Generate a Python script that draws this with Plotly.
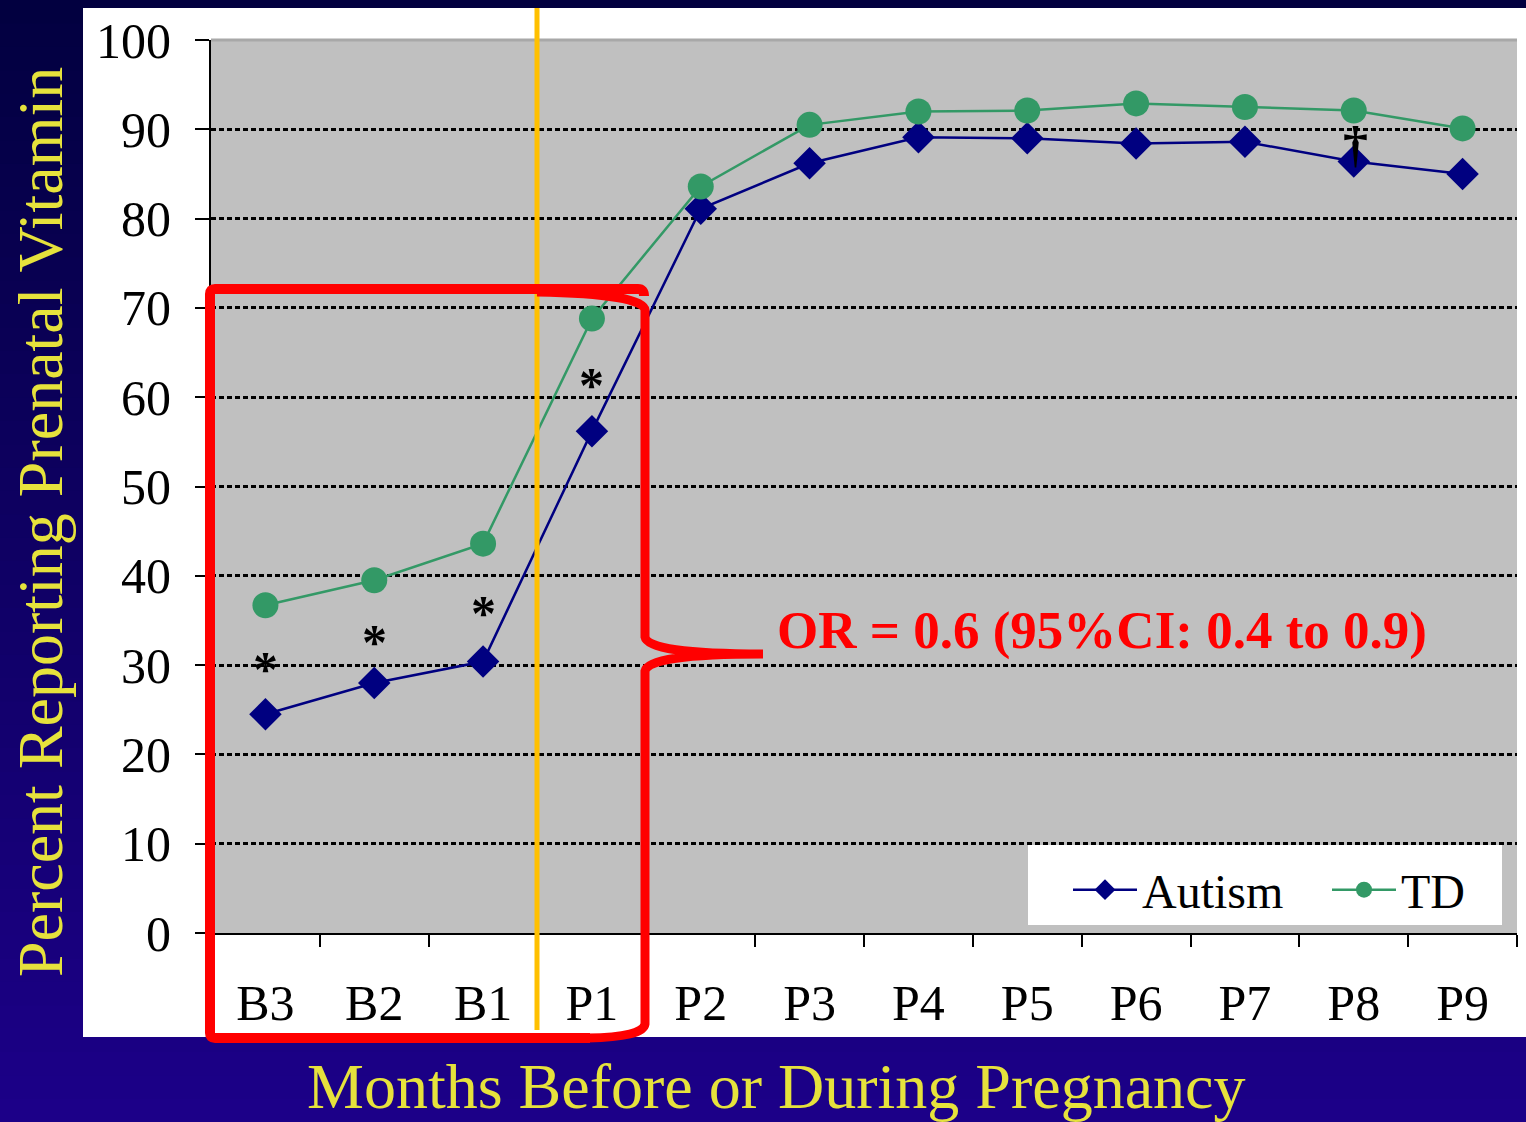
import plotly.graph_objects as go

# ---------------- data ----------------
months = ["B3", "B2", "B1", "P1", "P2", "P3", "P4", "P5", "P6", "P7", "P8", "P9"]
autism = [24.5, 28.0, 30.4, 56.2, 81.1, 86.2, 89.1, 89.0, 88.4, 88.6, 86.4, 85.0]
td = [36.7, 39.5, 43.6, 68.8, 83.6, 90.5, 92.0, 92.1, 92.9, 92.5, 92.1, 90.1]

star_months = ["B3", "B2", "B1", "P1"]
star_y = [30.3, 33.4, 36.6, 62.2]
dagger_month = "P8"
dagger_y = 88.6

y_ticks = [0, 10, 20, 30, 40, 50, 60, 70, 80, 90, 100]
or_text = "OR = 0.6 (95%CI: 0.4 to 0.9)"

# ---------------- layout geometry ----------------
W, H = 1526, 1122
L, R, T, B = 211, 9, 40, 189
PW, PH = W - L - R, H - T - B


def px(x):
    return (x - L) / PW


def py(y):
    return (H - B - y) / PH


FONT = "Liberation Serif, Times New Roman, serif"
YELLOW = "#e6e23c"

fig = go.Figure()
fig.add_trace(go.Scatter(
    x=months, y=autism, name="Autism", mode="lines+markers",
    line=dict(color="#000080", width=2.5),
    marker=dict(symbol="diamond", size=25, color="#000080"),
))
fig.add_trace(go.Scatter(
    x=months, y=td, name="TD", mode="lines+markers",
    line=dict(color="#339966", width=2.5),
    marker=dict(symbol="circle", size=26, color="#339966"),
))

shapes = []
# gradient background
n = 48
c0 = (2, 0, 64)
c1 = (28, 0, 136)
for i in range(n):
    t = i / (n - 1)
    col = "rgb(%d,%d,%d)" % tuple(round(a + (b - a) * t) for a, b in zip(c0, c1))
    y0 = H * i / n
    y1 = H * (i + 1) / n + 1
    shapes.append(dict(type="rect", xref="paper", yref="paper",
                       x0=px(0), x1=px(W), y0=py(y1), y1=py(y0),
                       fillcolor=col, line=dict(width=0), layer="below"))
# white chart area
shapes.append(dict(type="rect", xref="paper", yref="paper",
                   x0=px(83), x1=px(W), y0=py(1037), y1=py(8),
                   fillcolor="white", line=dict(width=0), layer="below"))
# gray plot area
shapes.append(dict(type="rect", xref="paper", yref="paper",
                   x0=0, x1=1, y0=0, y1=1,
                   fillcolor="#c0c0c0", line=dict(width=0), layer="below"))
# light top gridline at 100
shapes.append(dict(type="line", xref="paper", yref="paper",
                   x0=0, x1=1, y0=1, y1=1,
                   line=dict(color="#a8a8a8", width=3)))
# orange vertical divider between B1 and P1
shapes.append(dict(type="line", xref="paper", yref="paper",
                   x0=px(537), x1=px(537), y0=py(1030), y1=py(8),
                   line=dict(color="#ffc000", width=5)))
# white legend box
shapes.append(dict(type="rect", xref="paper", yref="paper",
                   x0=px(1028), x1=px(1502), y0=py(925), y1=py(845),
                   fillcolor="white", line=dict(width=0)))


def path(points):
    s = ""
    for cmd, *pts in points:
        s += cmd + " " + " ".join("%.5f,%.5f" % (px(a), py(b)) for a, b in zip(pts[::2], pts[1::2])) + " "
    return s.strip()


box = path([
    ("M", 590, 1038),
    ("L", 215, 1038),
    ("Q", 210, 1038, 210, 1033),
    ("L", 210, 294),
    ("Q", 210, 289, 215, 289),
    ("L", 638, 289),
    ("Q", 644, 289, 644, 296),
])
shapes.append(dict(type="path", xref="paper", yref="paper", path=box,
                   line=dict(color="#ff0000", width=10)))
brace = path([
    ("M", 537, 292),
    ("Q", 643, 294, 645, 310),
    ("L", 645, 637),
    ("Q", 648, 654, 763, 654),
    ("Q", 648, 654, 645, 671),
    ("L", 645, 1024),
    ("Q", 643, 1037, 588, 1038),
])
shapes.append(dict(type="path", xref="paper", yref="paper", path=brace,
                   line=dict(color="#ff0000", width=9)))

annotations = []
for m, v in zip(star_months, star_y):
    annotations.append(dict(x=m, y=v, xref="x", yref="y", text="<b>*</b>", showarrow=False,
                            font=dict(family=FONT, size=50, color="black"),
                            yanchor="middle", yshift=-7))
annotations.append(dict(x=dagger_month, y=dagger_y, xref="x", yref="y", text="<b>†</b>",
                        showarrow=False, font=dict(family=FONT, size=50, color="black"),
                        yanchor="middle", yshift=-2, xshift=2))
annotations.append(dict(x=px(1102), y=py(630), xref="paper", yref="paper",
                        text="<b>%s</b>" % or_text, showarrow=False,
                        font=dict(family=FONT, size=53, color="#ff0000"),
                        xanchor="center", yanchor="middle"))
annotations.append(dict(x=px(40), y=py(522), xref="paper", yref="paper",
                        text="Percent Reporting Prenatal Vitamin", textangle=-90,
                        showarrow=False, font=dict(family=FONT, size=64, color=YELLOW),
                        xanchor="center", yanchor="middle"))
annotations.append(dict(x=px(776), y=py(1086), xref="paper", yref="paper",
                        text="Months Before or During Pregnancy",
                        showarrow=False, font=dict(family=FONT, size=64, color=YELLOW),
                        xanchor="center", yanchor="middle"))

fig.update_layout(
    width=W, height=H,
    margin=dict(l=L, r=R, t=T, b=B, pad=0, autoexpand=False),
    paper_bgcolor="#0e0066",
    plot_bgcolor="#c0c0c0",
    font=dict(family=FONT, color="black"),
    showlegend=True,
    legend=dict(orientation="h", x=px(1068), y=py(890), xanchor="left", yanchor="middle",
                bgcolor="rgba(0,0,0,0)", font=dict(family=FONT, size=48, color="black"),
                entrywidth=180, itemwidth=64, borderwidth=0),
    shapes=shapes,
    annotations=annotations,
    xaxis=dict(type="category", categoryorder="array", categoryarray=months,
               range=[-0.5, len(months) - 0.5],
               showline=True, linecolor="black", linewidth=2,
               ticks="outside", tickson="boundaries", ticklen=12, tickwidth=2, tickcolor="black",
               showgrid=False, zeroline=False, automargin=False,
               tickfont=dict(family=FONT, size=50, color="black"),
               ticklabelstandoff=25),
    yaxis=dict(range=[0, 100], tickvals=y_ticks,
               showline=True, linecolor="black", linewidth=2,
               ticks="outside", ticklen=14, tickwidth=2, tickcolor="black",
               showgrid=True, gridcolor="black", gridwidth=2.5, griddash="5px,3px",
               zeroline=False, automargin=False,
               tickfont=dict(family=FONT, size=50, color="black"),
               ticklabelstandoff=14),
)

fig.write_html("out.html")
